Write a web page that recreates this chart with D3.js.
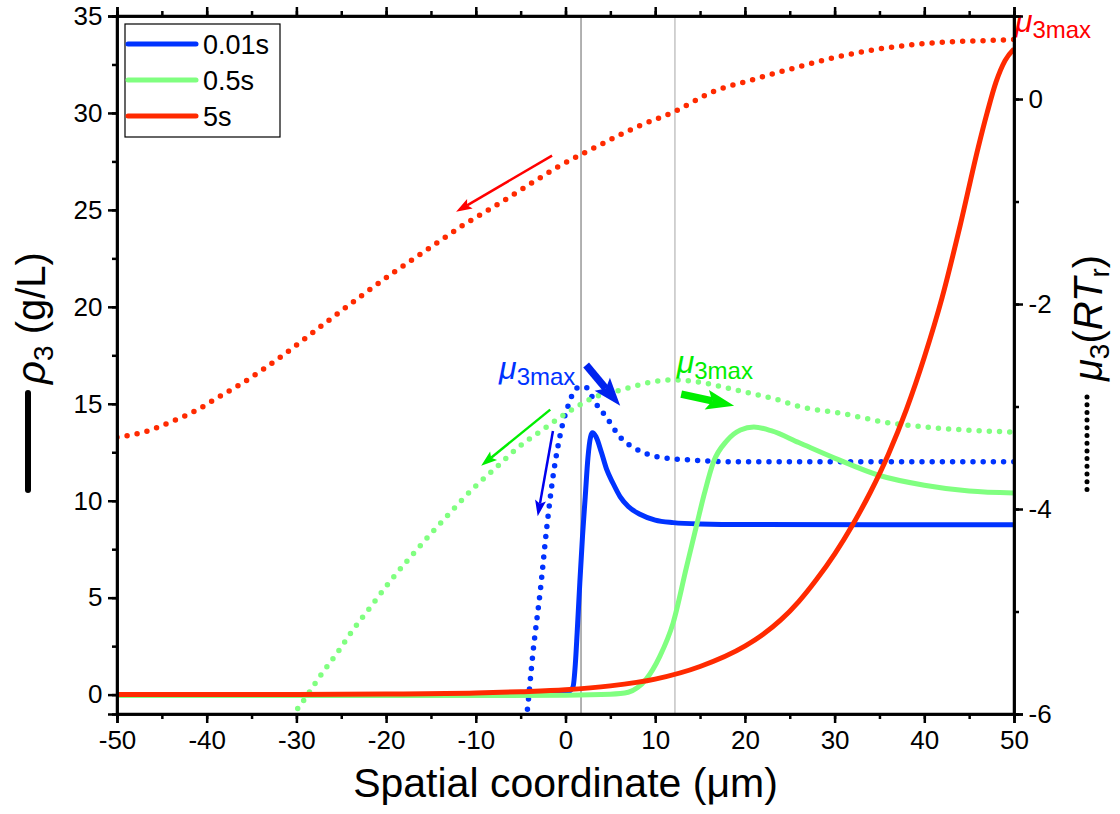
<!DOCTYPE html>
<html>
<head>
<meta charset="utf-8">
<script src="https://cdn.jsdelivr.net/npm/d3@7"></script>
<style>
  body { margin: 0; background: #fff; }
  text { font-family: "Liberation Sans", Arial, sans-serif; }
</style>
</head>
<body>
<svg width="1120" height="814"></svg>
<script>
// rho3 (g/L), left axis, solid lines
const rho001 = [[-50,0],[-10,0],[0,0.05],[0.5,0.2],[0.84,0.4],[1.1,1.6],[1.3,3.2],[1.6,5.8],[1.9,8.2],[2.2,10.2],[2.5,12.2],[2.8,13.3],[3,13.5],[3.4,13.3],[4,12.5],[4.6,11.6],[5.3,10.9],[6.1,10.2],[7,9.7],[8.3,9.3],[10,9.0],[12,8.87],[15,8.8],[20,8.77],[50,8.76]];
const rho05 = [[-50,-0.05],[-10,-0.05],[0,-0.03],[5,0.02],[7,0.12],[8,0.35],[9,0.8],[10.5,1.96],[12,3.7],[13.5,6.6],[14.7,8.9],[15.5,10.4],[16.5,12],[18,13.1],[19.5,13.65],[21,13.8],[23,13.6],[26,13.0],[30,12.2],[35,11.3],[40,10.8],[45,10.5],[50,10.4]];
const rho5 = [[-50,0],[-30,0.01],[-20,0.03],[-10,0.08],[-5,0.15],[0,0.25],[5,0.45],[10,0.8],[15,1.45],[20,2.5],[22,3.1],[24,3.85],[26,4.8],[28,5.95],[30,7.25],[32,8.75],[34,10.45],[36,12.4],[38,14.7],[40,17.4],[42,20.5],[44,24.2],[46,28.2],[47,30.0],[48,31.6],[49,32.7],[50,33.3]];

// mu3 (RT_r), right axis, dotted lines
const mu001 = [[-4.5,-6.15],[-4.3,-6.0],[-3.6,-5.38],[-2.8,-4.79],[-2.1,-4.19],[-1.4,-3.69],[-0.6,-3.28],[0.3,-2.99],[1.3,-2.82],[2.2,-2.81],[3.3,-2.96],[4.6,-3.11],[6.1,-3.30],[8,-3.42],[10.2,-3.49],[13.5,-3.52],[20,-3.54],[50,-3.54]];
const mu05 = [[-30.5,-6.03],[-30.2,-5.99],[-28.8,-5.82],[-27.6,-5.66],[-25.5,-5.41],[-23.7,-5.18],[-21.6,-4.94],[-19.6,-4.71],[-17.4,-4.48],[-15.1,-4.25],[-12.8,-4.03],[-10.3,-3.80],[-7.8,-3.6],[-5.3,-3.4],[-2.6,-3.23],[0.2,-3.06],[3.5,-2.9],[6.1,-2.84],[9.1,-2.77],[11.9,-2.74],[14.7,-2.76],[17.6,-2.81],[20.6,-2.87],[23.1,-2.92],[26.1,-3.0],[31,-3.07],[35.4,-3.15],[40.1,-3.2],[44.8,-3.23],[50,-3.25]];
const mu5 = [[-50,-3.30],[-47,-3.25],[-44,-3.15],[-41,-3.03],[-38.9,-2.92],[-36,-2.77],[-31.5,-2.5],[-27,-2.2],[-22.6,-1.91],[-18.8,-1.67],[-15.1,-1.45],[-11.4,-1.23],[-7.6,-1.03],[-3.6,-0.81],[-0.8,-0.66],[3.8,-0.45],[8,-0.27],[12.2,-0.12],[16.4,0.07],[20.9,0.19],[25.4,0.30],[29.8,0.4],[34.3,0.48],[38.7,0.53],[43.2,0.56],[46.9,0.57],[50,0.58]];

const legendLabels = ["0.01s", "0.5s", "5s"];
const seriesColors = ["#0033ff", "#80ff80", "#ff2a00"];
const xTicks = [-50, -40, -30, -20, -10, 0, 10, 20, 30, 40, 50];
const yLeftTicks = [0, 5, 10, 15, 20, 25, 30, 35];
const yRightTicks = [-6, -4, -2, 0];
const guideX = [1.73, 12.2];

// annotation arrows in data coords (left axis)
const thinArrows = [
  {from: [-1.5, 27.8], to: [-12.2, 24.9], color: "#ff0000"},
  {from: [-1.7, 14.7], to: [-9.4, 11.8], color: "#00ee00"},
  {from: [-1.4, 13.6], to: [-3.1, 9.2], color: "#0000ee"}
];
const thickArrows = [
  {from: [2.3, 17.0], to: [6.1, 14.9], color: "#0022ee"},
  {from: [12.9, 15.5], to: [18.8, 14.9], color: "#00ee00"}
];

const svg = d3.select("svg");
const pLeft = 117, pRight = 1014, pTop = 16, pBottom = 714;

const x = d3.scaleLinear().domain([-50, 50]).range([pLeft, pRight]);
const yL = d3.scaleLinear().domain([-1, 35]).range([pBottom, pTop]);
const yR = d3.scaleLinear().domain([-6, 0.81]).range([pBottom, pTop]);

svg.append("rect").attr("width", 1120).attr("height", 814).attr("fill", "#fff");

svg.append("clipPath").attr("id", "plot")
  .append("rect").attr("x", pLeft).attr("y", pTop)
  .attr("width", pRight - pLeft).attr("height", pBottom - pTop);

// guide lines
svg.selectAll(".guide").data(guideX).join("line")
  .attr("x1", d => x(d)).attr("x2", d => x(d))
  .attr("y1", pTop).attr("y2", pBottom)
  .attr("stroke", (d, i) => i === 0 ? "#888" : "#bbb")
  .attr("stroke-width", 1.3);

const plot = svg.append("g").attr("clip-path", "url(#plot)");

const lineL = d3.line().x(d => x(d[0])).y(d => yL(d[1])).curve(d3.curveMonotoneX);
const lineR = d3.line().x(d => x(d[0])).y(d => yR(d[1])).curve(d3.curveMonotoneX);

[mu001, mu05, mu5].forEach((s, i) => {
  plot.append("path").attr("d", lineR(s))
    .attr("fill", "none").attr("stroke", seriesColors[i])
    .attr("stroke-width", 5.5).attr("stroke-linecap", "round")
    .attr("stroke-dasharray", "0 10.2");
});

[rho001, rho05, rho5].forEach((s, i) => {
  plot.append("path").attr("d", lineL(s))
    .attr("fill", "none").attr("stroke", seriesColors[i])
    .attr("stroke-width", 5).attr("stroke-linejoin", "round");
});

// arrows
function arrow(g, a, shaft, headLen, headW) {
  const x0 = x(a.from[0]), y0 = yL(a.from[1]);
  const x1 = x(a.to[0]), y1 = yL(a.to[1]);
  const len = Math.hypot(x1 - x0, y1 - y0);
  const ang = Math.atan2(y1 - y0, x1 - x0) * 180 / Math.PI;
  const ag = g.append("g").attr("transform", `translate(${x0},${y0}) rotate(${ang})`);
  ag.append("line").attr("x1", 0).attr("y1", 0).attr("x2", len - headLen * 0.8).attr("y2", 0)
    .attr("stroke", a.color).attr("stroke-width", shaft);
  ag.append("path")
    .attr("d", `M${len},0 L${len - headLen},${-headW / 2} L${len - headLen * 0.8},0 L${len - headLen},${headW / 2} Z`)
    .attr("fill", a.color);
}
thinArrows.forEach(a => arrow(svg, a, 2.5, 16, 11));
thickArrows.forEach(a => arrow(svg, a, 7.5, 28, 20));

// mu3max labels
function muLabel(px, py, color) {
  const t = svg.append("text").attr("x", px).attr("y", py).attr("fill", color);
  t.append("tspan").text("μ").attr("font-size", 32).attr("font-style", "italic");
  t.append("tspan").text("3max").attr("font-size", 24).attr("dy", 6);
}
muLabel(x(-7.4), yL(16.3), "#0033ff");
muLabel(x(12.4), yL(16.6), "#00ee00");
muLabel(x(50.1), yL(34.2), "#ff0000");

// axes
const fmt = d => String(d);
function minor(step, dom) { return d3.range(dom[0], dom[1] + 1e-9, step); }

svg.append("g").attr("transform", `translate(0,${pBottom})`)
  .call(d3.axisBottom(x).tickValues(minor(5, [-50, 50])).tickSize(5).tickFormat(""));
svg.append("g").attr("transform", `translate(0,${pBottom})`)
  .call(d3.axisBottom(x).tickValues(xTicks).tickSize(9).tickFormat(fmt))
  .call(g => g.selectAll("text").attr("font-size", 26).attr("dy", "0.9em"));
svg.append("g").attr("transform", `translate(0,${pTop})`)
  .call(d3.axisTop(x).tickValues(minor(5, [-50, 50])).tickSize(5).tickFormat(""));
svg.append("g").attr("transform", `translate(0,${pTop})`)
  .call(d3.axisTop(x).tickValues(xTicks).tickSize(9).tickFormat(""));

svg.append("g").attr("transform", `translate(${pLeft},0)`)
  .call(d3.axisLeft(yL).tickValues(minor(2.5, [0, 35])).tickSize(5).tickFormat(""));
svg.append("g").attr("transform", `translate(${pLeft},0)`)
  .call(d3.axisLeft(yL).tickValues(yLeftTicks).tickSize(9).tickFormat(fmt))
  .call(g => g.selectAll("text").attr("font-size", 26).attr("dx", "-0.1em"));

svg.append("g").attr("transform", `translate(${pRight},0)`)
  .call(d3.axisRight(yR).tickValues(minor(1, [-6, 0])).tickSize(5).tickFormat(""));
svg.append("g").attr("transform", `translate(${pRight},0)`)
  .call(d3.axisRight(yR).tickValues(yRightTicks).tickSize(9).tickFormat(fmt))
  .call(g => g.selectAll("text").attr("font-size", 26).attr("dx", "0.1em"));

svg.selectAll(".domain").attr("stroke", "#000").attr("stroke-width", 2.5);
svg.selectAll(".tick line").attr("stroke", "#000").attr("stroke-width", 2.5);
svg.selectAll(".tick text").attr("fill", "#000");

svg.append("rect").attr("x", pLeft).attr("y", pTop).attr("width", pRight - pLeft).attr("height", pBottom - pTop)
  .attr("fill", "none").attr("stroke", "#000").attr("stroke-width", 2.5);

// legend
const leg = svg.append("g");
leg.append("rect").attr("x", 125).attr("y", 24).attr("width", 155).attr("height", 113)
  .attr("fill", "#fff").attr("stroke", "#000").attr("stroke-width", 1.2);
legendLabels.forEach((lab, i) => {
  const yy = 44 + i * 36;
  leg.append("line").attr("x1", 128).attr("x2", 196).attr("y1", yy).attr("y2", yy)
    .attr("stroke", seriesColors[i]).attr("stroke-width", 5).attr("stroke-linecap", "round");
  leg.append("text").attr("x", 203).attr("y", yy + 10).attr("font-size", 27).text(lab);
});

// axis titles
svg.append("text").attr("x", (pLeft + pRight) / 2).attr("y", 797)
  .attr("text-anchor", "middle").attr("font-size", 41).text("Spatial coordinate (μm)");

const yl = svg.append("g").attr("transform", "translate(45,318) rotate(-90)");
const ylt = yl.append("text").attr("text-anchor", "middle").attr("font-size", 40);
ylt.append("tspan").text("ρ").attr("font-style", "italic");
ylt.append("tspan").text("3").attr("font-size", 28).attr("dy", 8);
ylt.append("tspan").text(" (g/L)").attr("dy", -8);
svg.append("line").attr("x1", 28).attr("x2", 28).attr("y1", 393).attr("y2", 490)
  .attr("stroke", "#000").attr("stroke-width", 6).attr("stroke-linecap", "round");

const yr = svg.append("g").attr("transform", "translate(1102,318) rotate(-90)");
const yrt = yr.append("text").attr("text-anchor", "middle").attr("font-size", 40);
yrt.append("tspan").text("μ").attr("font-style", "italic");
yrt.append("tspan").text("3").attr("font-size", 28).attr("dy", 7);
yrt.append("tspan").text("(").attr("dy", -7);
yrt.append("tspan").text("RT").attr("font-style", "italic");
yrt.append("tspan").text("r").attr("font-size", 28).attr("dy", 7);
yrt.append("tspan").text(")").attr("dy", -7);
svg.append("line").attr("x1", 1087).attr("x2", 1087).attr("y1", 397).attr("y2", 490)
  .attr("stroke", "#000").attr("stroke-width", 5).attr("stroke-linecap", "round")
  .attr("stroke-dasharray", "0 7.7");
</script>
</body>
</html>
